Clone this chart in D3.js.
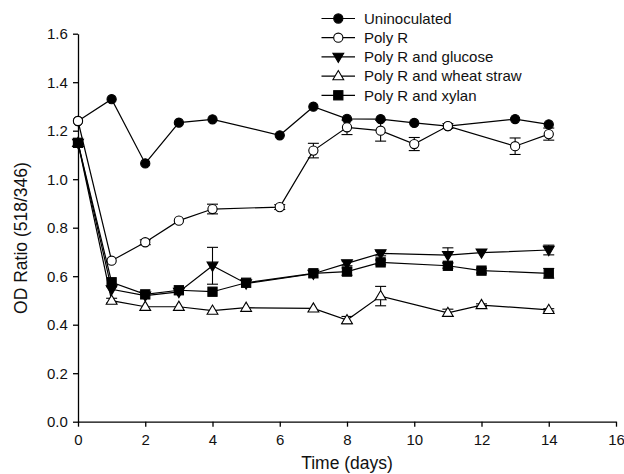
<!DOCTYPE html>
<html><head><meta charset="utf-8">
<script src="https://cdn.jsdelivr.net/npm/d3@7"></script>
<style>body{margin:0;background:#fff}svg{display:block;font-family:"Liberation Sans",Arial,sans-serif}</style>
</head><body><svg id="c" width="624" height="474"></svg>
<script>
const days = [0,1,2,3,4,5,6,7,8,9,10,11,12,13,14];
const xTicks = [0,2,4,6,8,10,12,14,16];
const yTicks = [0.0,0.2,0.4,0.6,0.8,1.0,1.2,1.4,1.6];
const seriesNames = ["Uninoculated","Poly R","Poly R and glucose","Poly R and wheat straw","Poly R and xylan"];
// null = not measured that day
const uninoculated = [1.24,1.33,1.065,1.233,1.247,null,1.181,1.299,1.249,1.248,1.232,1.219,null,1.248,1.226];
const uninoculatedErr = [0,0,0,0,0,null,0,0,0,0,0,0,null,0,0];
const polyR = [1.24,0.664,0.740,0.829,0.877,null,0.885,1.118,1.214,1.200,1.145,1.219,null,1.136,1.186];
const polyRErr = [0,0,0.01,0,0.02,null,0.01,0.03,0.03,0.043,0.027,0.01,null,0.034,0.025];
const glucose = [1.15,0.546,0.520,0.535,0.643,0.570,null,0.610,0.653,0.694,null,0.687,0.697,null,0.708];
const glucoseErr = [0,0,0,0,0.076,0,null,0,0.01,0.01,null,0.03,0,null,0.02];
const wheat = [1.15,0.499,0.474,0.474,0.458,0.470,null,0.467,0.419,0.518,null,0.449,0.481,null,0.461];
const wheatErr = [0,0.01,0,0,0,0,null,0,0.015,0.04,null,0.015,0.005,null,0.005];
const xylan = [1.15,0.575,0.525,0.542,0.536,0.573,null,0.612,0.619,0.657,null,0.643,0.623,null,0.612];
const xylanErr = [0,0,0,0,0,0,null,0,0.015,0.01,null,0.01,0.01,null,0.02];

const svg = d3.select("#c");
const x = d3.scaleLinear().domain([0,16]).range([78,616]);
const y = d3.scaleLinear().domain([0,1.6]).range([421.7,33.7]);

const gx = svg.append("g").attr("transform","translate(0,421.7)")
  .call(d3.axisBottom(x).tickValues(xTicks).tickFormat(d3.format("d")).tickSize(5).tickSizeOuter(0));
const gy = svg.append("g").attr("transform","translate(78,0)")
  .call(d3.axisLeft(y).tickValues(yTicks).tickFormat(d3.format(".1f")).tickSize(5).tickSizeOuter(0));
[gx,gy].forEach(g=>{
  g.selectAll("path,line").attr("stroke","#000").attr("stroke-width",1.3);
  g.selectAll("text").attr("fill","#111").style("font-size","15px");
});
gx.selectAll("text").attr("dy","1.05em");
gy.selectAll("text").attr("dx","-0.15em");

svg.append("text").attr("x",(x(0)+x(16))/2).attr("y",469).attr("text-anchor","middle")
  .style("font-size","17.5px").attr("fill","#111").text("Time (days)");
svg.append("text").attr("transform","translate(27,238) rotate(-90)").attr("text-anchor","middle")
  .style("font-size","17.5px").attr("fill","#111").text("OD Ratio (518/346)");

const series = [
  {name:seriesNames[0], v:uninoculated, e:uninoculatedErr, sym:"circle", fill:"#000"},
  {name:seriesNames[1], v:polyR, e:polyRErr, sym:"circle", fill:"#fff"},
  {name:seriesNames[2], v:glucose, e:glucoseErr, sym:"tdown", fill:"#000"},
  {name:seriesNames[3], v:wheat, e:wheatErr, sym:"tup", fill:"#fff"},
  {name:seriesNames[4], v:xylan, e:xylanErr, sym:"square", fill:"#000"}
];

function marker(g, sym, fill, cx, cy){
  const s = g.append(sym==="circle"?"circle":sym==="square"?"rect":"path")
    .attr("fill",fill).attr("stroke","#000").attr("stroke-width",1.1);
  if(sym==="circle") s.attr("cx",cx).attr("cy",cy).attr("r",4.6);
  else if(sym==="square") s.attr("x",cx-4.6).attr("y",cy-4.6).attr("width",9.2).attr("height",9.2);
  else if(sym==="tdown") s.attr("d",`M${cx-5.4},${cy-3.6}L${cx+5.4},${cy-3.6}L${cx},${cy+5.6}Z`);
  else s.attr("d",`M${cx-5.4},${cy+3.6}L${cx+5.4},${cy+3.6}L${cx},${cy-5.6}Z`);
}

const line = d3.line().defined(d=>d.v!=null).x(d=>x(d.d)).y(d=>y(d.v));
series.forEach(s=>{
  const pts = days.map((d,i)=>({d, v:s.v[i], e:s.e[i]})).filter(p=>p.v!=null);
  const g = svg.append("g");
  g.append("path").datum(pts).attr("d",line).attr("fill","none").attr("stroke","#000").attr("stroke-width",1.2);
  pts.forEach(p=>{
    if(p.e>0){
      const X=x(p.d), y1=y(p.v+p.e), y2=y(p.v-p.e);
      g.append("line").attr("x1",X).attr("x2",X).attr("y1",y1).attr("y2",y2).attr("stroke","#000").attr("stroke-width",1.1);
      [y1,y2].forEach(yy=>g.append("line").attr("x1",X-5.5).attr("x2",X+5.5).attr("y1",yy).attr("y2",yy).attr("stroke","#000").attr("stroke-width",1.1));
    }
  });
  pts.forEach(p=>marker(g,s.sym,s.fill,x(p.d),y(p.v)));
});

// legend
const lg = svg.append("g");
series.forEach((s,i)=>{
  const yy = 18.5 + i*19.2;
  lg.append("line").attr("x1",321.5).attr("x2",355).attr("y1",yy).attr("y2",yy).attr("stroke","#000").attr("stroke-width",1.2);
  marker(lg,s.sym,s.fill,338.3,yy);
  lg.append("text").attr("x",364).attr("y",yy+5.3).style("font-size","15px").attr("fill","#111").text(s.name);
});
</script></body></html>
